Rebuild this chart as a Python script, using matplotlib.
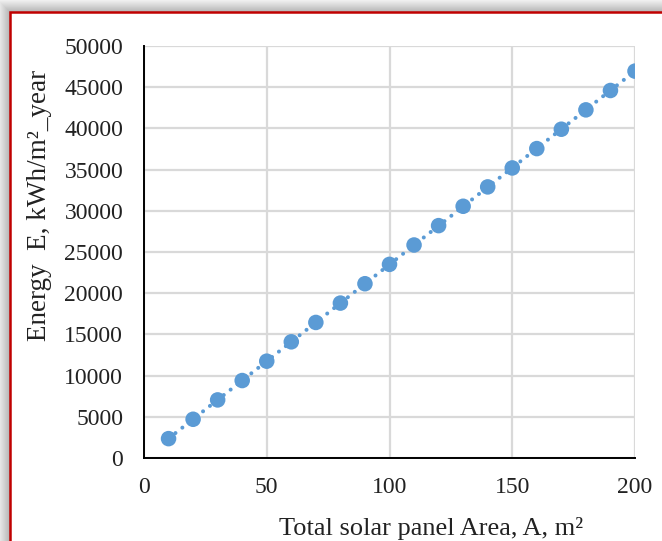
import numpy as np
import matplotlib
matplotlib.use("Agg")
import matplotlib.pyplot as plt
from matplotlib.patches import Rectangle

area = [10, 20, 30, 40, 50, 60, 70, 80, 90, 100, 110, 120, 130, 140, 150, 160, 170, 180, 190, 200]
energy = [2350, 4700, 7050, 9400, 11750, 14100, 16450, 18800, 21150, 23500,
          25850, 28200, 30550, 32900, 35200, 37550, 39900, 42250, 44600, 46950]
xticks = [0, 50, 100, 150, 200]
yticks = list(range(0, 50001, 5000))

plt.rcParams['font.family'] = ['Liberation Serif', 'DejaVu Serif']
W, H = 662, 541
fig = plt.figure(figsize=(W / 100, H / 100), dpi=100)

# background shadow + red frame
bg = fig.add_axes([0, 0, 1, 1], zorder=-10)
bg.set_xlim(0, W); bg.set_ylim(H, 0); bg.axis('off')
px = np.arange(W)[None, :].repeat(H, 0)
py = np.arange(H)[:, None].repeat(W, 1)
d = np.maximum(np.maximum(10 - px, 12 - py), 0).astype(float)
shade = np.where((px < 10) | (py < 12), 0.70 + 0.24 * np.clip(d / 12, 0, 1), 1.0)
img = np.dstack([shade, shade, shade])
bg.imshow(img, extent=(0, W, H, 0), interpolation='bilinear', aspect='auto')
bg.add_patch(Rectangle((10, 12), W, H, fill=True, facecolor='white',
                       edgecolor='#C00000', linewidth=1.8))

ax = fig.add_axes([144 / W, 1 - 458 / H, (635 - 144) / W, (458 - 46) / H])
ax.set_facecolor('none')
ax.set_xlim(0, 200)
ax.set_ylim(0, 50000)
ax.set_xticks(xticks)
ax.set_yticks(yticks)
ax.grid(True, color='#D9D9D9', linewidth=1.6)
ax.set_axisbelow(True)
for s in ['top', 'right']:
    ax.spines[s].set_visible(False)
for s in ['left', 'bottom']:
    ax.spines[s].set_color('black')
    ax.spines[s].set_linewidth(1.4)
ax.tick_params(length=0, labelsize=17, colors='#222222')
ax.tick_params(axis='x', pad=14)
ax.tick_params(axis='y', pad=15)

ax.scatter(area, energy, s=125, color='#5B9BD5', zorder=3, edgecolors='none')
coef = np.polyfit(area, energy, 1)
xl = np.array([area[0], area[-1]])
ax.plot(xl, np.polyval(coef, xl), color='#5B9BD5', linewidth=2.9,
        linestyle=(0, (0.01, 2.17)), dash_capstyle='round', zorder=2)

fig.text(431 / W, 1 - 528 / H, 'Total solar panel Area, A, m²', ha='center', va='center',
         fontsize=19, color='#222222')
fig.text(40 / W, 1 - 205 / H, 'Energy  E, kWh/m²_year', ha='center', va='center',
         rotation=90, fontsize=19.5, color='#222222')

fig.savefig('out.png', dpi=100)
